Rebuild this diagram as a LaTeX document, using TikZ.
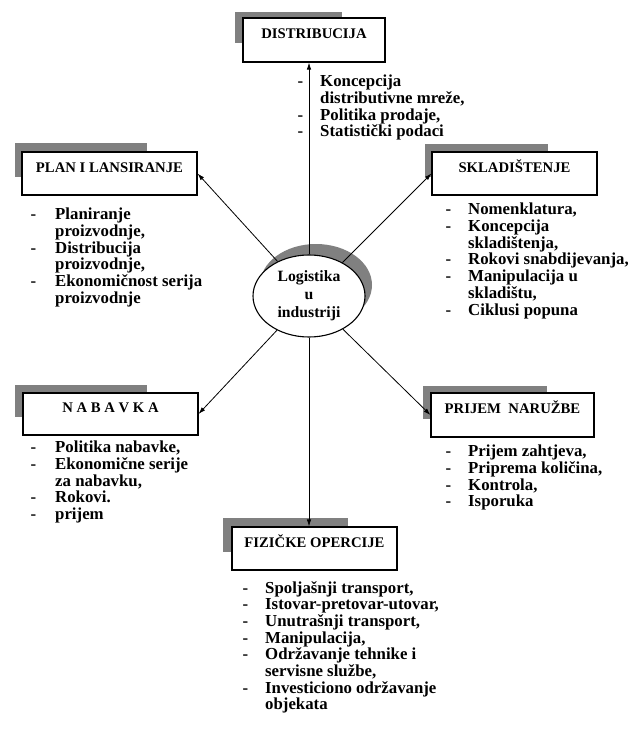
\documentclass[tikz,border=0pt]{standalone}
\usepackage{fontspec}
\setmainfont{Liberation Serif}
\usetikzlibrary{shapes.geometric,arrows.meta}
\definecolor{shd}{RGB}{128,128,128}
\newcommand{\itmA}[1]{\makebox[24.5pt][l]{-}#1}
\newcommand{\cntA}[1]{\hspace*{24.5pt}#1}
\newcommand{\itmB}[1]{\makebox[22.5pt][l]{-}#1}
\newcommand{\cntB}[1]{\hspace*{22.5pt}#1}
\newcommand{\ttl}[1]{\raisebox{1.5pt}[0pt][0pt]{#1}}
\begin{document}
\begin{tikzpicture}[x=1pt,y=-1pt,
  box/.style={draw,line width=1.1pt,fill=white,inner sep=0,font=\bfseries\fontsize{14.7}{16}\selectfont},
  ell/.style={ellipse,draw,line width=1.1pt,fill=white,minimum width=112pt,minimum height=82pt,inner sep=0,align=center,font=\bfseries\fontsize{15.7}{18}\selectfont},
  lst/.style={anchor=north west,inner sep=0,align=left,font=\bfseries\fontsize{16.8}{16.7}\selectfont},
  arr/.style={line width=0.8pt,-{Latex[length=7pt,width=4.5pt]}}]
\useasboundingbox (0,0) rectangle (633,733);
% shadows
\fill[shd] (235,12) rectangle (342,43);
\fill[shd] (15,143) rectangle (147,177);
\fill[shd] (425,144) rectangle (548,177);
\fill[shd] (15,385) rectangle (147,417);
\fill[shd] (423,386) rectangle (547,419);
\fill[shd] (223,518) rectangle (348,552);
\fill[shd] (316,285) ellipse [x radius=56pt, y radius=41pt];
% boxes
\node[box,minimum width=142pt,minimum height=44pt] (dist) at (314,40) {\ttl{DISTRIBUCIJA}};
\node[box,minimum width=175pt,minimum height=43pt] (plan) at (109.5,173.5) {\ttl{PLAN I LANSIRANJE}};
\node[box,minimum width=165pt,minimum height=43pt] (skl) at (514.5,173.5) {\ttl{SKLADIŠTENJE}};
\node[box,minimum width=175pt,minimum height=42pt] (nab) at (110.5,414) {\ttl{N A B A V K A}};
\node[box,minimum width=163pt,minimum height=44pt] (pri) at (512.5,415) {\ttl{PRIJEM\ \ NARUŽBE}};
\node[box,minimum width=165pt,minimum height=43pt] (fiz) at (314.5,548.5) {\ttl{FIZIČKE OPERCIJE}};
\node[ell] (c) at (309,296) {Logistika\\u\\industriji};
% connectors
\draw[arr] (c.north) -- (c.north |- dist.south);
\draw[arr] (c) -- (plan.east);
\draw[arr] (c) -- (skl.west);
\draw[arr] (c) -- (nab.east);
\draw[arr] (c) -- (pri.west);
\draw[arr] (c.south) -- (c.south |- fiz.north);
% lists
\node[lst] (ldist) at (297.5,75) {\itmB{Koncepcija}\\\cntB{distributivne mreže,}\\\itmB{Politika prodaje,}\\\itmB{Statistički podaci}};
\node[lst] (lplan) at (30.5,208) {\itmA{Planiranje}\\\cntA{proizvodnje,}\\\itmA{Distribucija}\\\cntA{proizvodnje,}\\\itmA{Ekonomičnost serija}\\\cntA{proizvodnje}};
\node[lst] (lskl) at (445.5,203) {\itmB{Nomenklatura,}\\\itmB{Koncepcija}\\\cntB{skladištenja,}\\\itmB{Rokovi snabdijevanja,}\\\itmB{Manipulacija u}\\\cntB{skladištu,}\\\itmB{Ciklusi popuna}};
\node[lst] (lnab) at (30.5,441) {\itmA{Politika nabavke,}\\\itmA{Ekonomične serije}\\\cntA{za nabavku,}\\\itmA{Rokovi.}\\\itmA{prijem}};
\node[lst] (lpri) at (445.5,445) {\itmB{Prijem zahtjeva,}\\\itmB{Priprema količina,}\\\itmB{Kontrola,}\\\itmB{Isporuka}};
\node[lst] (lfiz) at (242.5,581) {\itmB{Spoljašnji transport,}\\\itmB{Istovar-pretovar-utovar,}\\\itmB{Unutrašnji transport,}\\\itmB{Manipulacija,}\\\itmB{Održavanje tehnike i}\\\cntB{servisne službe,}\\\itmB{Investiciono održavanje}\\\cntB{objekata}};
\end{tikzpicture}
\end{document}
